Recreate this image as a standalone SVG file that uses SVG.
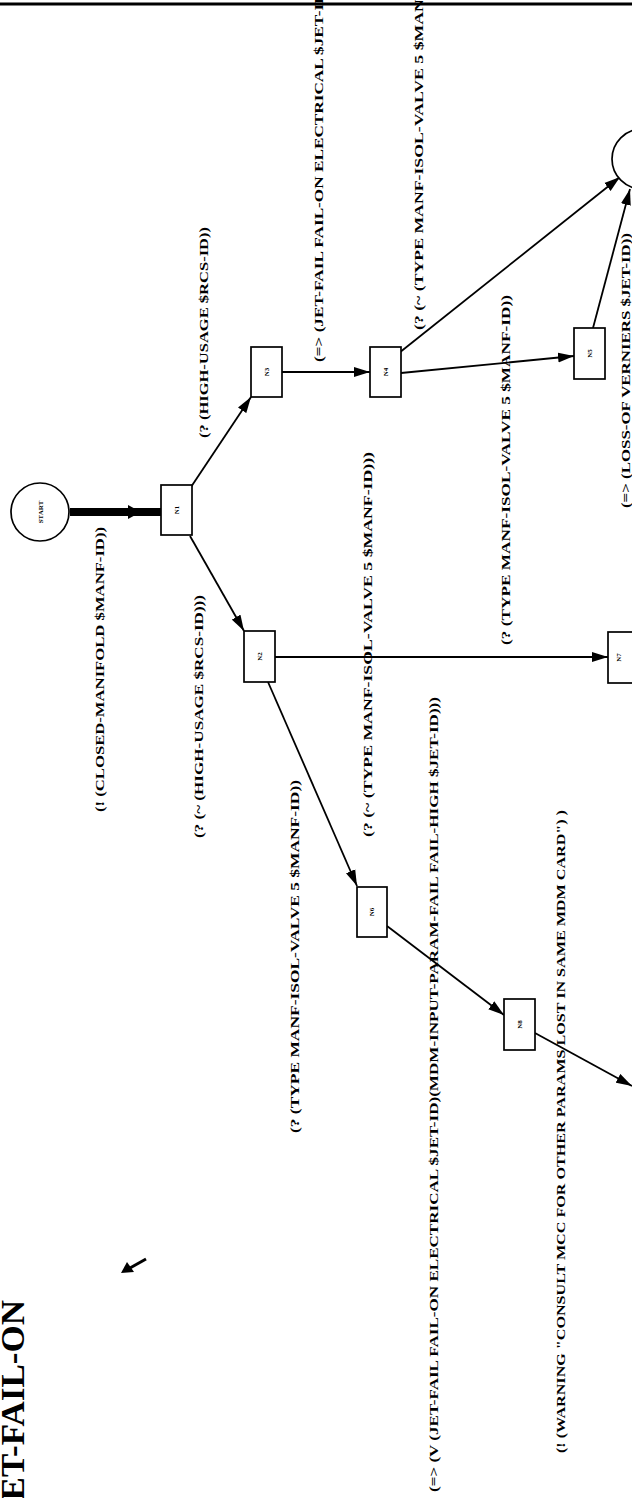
<svg xmlns="http://www.w3.org/2000/svg" width="632" height="1498" viewBox="0 0 632 1498">
  <style>
    .node { fill: #fff; stroke: #000; stroke-width: 1.7; }
    .edge { fill: none; stroke: #000; stroke-width: 1.8; }
    .nlab { font-family: "Liberation Serif", "Times New Roman", serif; font-weight: bold; font-size: 7px; fill: #000; text-anchor: middle; }
    .elab { font-family: "Liberation Serif", "Times New Roman", serif; font-weight: bold; font-size: 13px; fill: #000; }
    .title { font-family: "Liberation Serif", "Times New Roman", serif; font-weight: bold; font-size: 33px; fill: #000; text-anchor: end; }
  </style>
  <defs>
    <marker id="arrow" markerUnits="userSpaceOnUse" markerWidth="17" markerHeight="11" refX="16" refY="5.5" orient="auto">
      <path d="M0,0.5 L16,5.5 L0,10.5 Z" fill="#000"/>
    </marker>
  </defs>
  <rect width="632" height="1498" fill="#fff"/>
  <!-- page rule along the top edge -->
  <line x1="0" y1="4" x2="632" y2="4" stroke="#000" stroke-width="3"/>

  <!-- title -->
  <text class="title" transform="translate(24,1300) rotate(-90)" textLength="218" lengthAdjust="spacingAndGlyphs">JET-FAIL-ON</text>
  <!-- small pointer arrow -->
  <g id="pointer">
    <line x1="146" y1="1259" x2="130" y2="1268" stroke="#000" stroke-width="3"/>
    <polygon points="121,1273 127,1262 134,1272" fill="#000"/>
  </g>

  <!-- connectors -->
  <g id="connectors">
    <line x1="70" y1="512" x2="161" y2="512" stroke="#000" stroke-width="8"/>
    <polygon points="128,505 141,512 128,519" fill="#000"/>
    <line class="edge" x1="191" y1="487" x2="251" y2="397" marker-end="url(#arrow)"/>
    <line class="edge" x1="190" y1="536" x2="244" y2="631" marker-end="url(#arrow)"/>
    <line class="edge" x1="282" y1="372" x2="370" y2="372" marker-end="url(#arrow)"/>
    <line class="edge" x1="401" y1="373" x2="574" y2="356" marker-end="url(#arrow)"/>
    <line class="edge" x1="399" y1="353" x2="620" y2="177" marker-end="url(#arrow)"/>
    <line class="edge" x1="593" y1="328" x2="630" y2="189" marker-end="url(#arrow)"/>
    <line class="edge" x1="275" y1="657" x2="608" y2="657" marker-end="url(#arrow)"/>
    <line class="edge" x1="268" y1="682" x2="357" y2="886" marker-end="url(#arrow)"/>
    <line class="edge" x1="387" y1="926" x2="504" y2="1015" marker-end="url(#arrow)"/>
    <line class="edge" x1="535" y1="1033" x2="632" y2="1086" marker-end="url(#arrow)"/>
  </g>

  <!-- edge labels, set vertically -->
  <g id="edge-labels">
    <text class="elab" transform="translate(104,812) rotate(-90)" textLength="285" lengthAdjust="spacingAndGlyphs">(! (CLOSED-MANIFOLD $MANF-ID))</text>
    <text class="elab" transform="translate(203,838) rotate(-90)" textLength="243" lengthAdjust="spacingAndGlyphs">(? (~ (HIGH-USAGE $RCS-ID)))</text>
    <text class="elab" transform="translate(208,438) rotate(-90)" textLength="211" lengthAdjust="spacingAndGlyphs">(? (HIGH-USAGE $RCS-ID))</text>
    <text class="elab" transform="translate(323,362) rotate(-90)" textLength="382" lengthAdjust="spacingAndGlyphs">(=&gt; (JET-FAIL FAIL-ON ELECTRICAL $JET-ID))</text>
    <text class="elab" transform="translate(423,330) rotate(-90)" textLength="385" lengthAdjust="spacingAndGlyphs">(? (~ (TYPE MANF-ISOL-VALVE 5 $MANF-ID)))</text>
    <text class="elab" transform="translate(510,645) rotate(-90)" textLength="350" lengthAdjust="spacingAndGlyphs">(? (TYPE MANF-ISOL-VALVE 5 $MANF-ID))</text>
    <text class="elab" transform="translate(630,508) rotate(-90)" textLength="275" lengthAdjust="spacingAndGlyphs">(=&gt; (LOSS-OF VERNIERS $JET-ID))</text>
    <text class="elab" transform="translate(372,837) rotate(-90)" textLength="385" lengthAdjust="spacingAndGlyphs">(? (~ (TYPE MANF-ISOL-VALVE 5 $MANF-ID)))</text>
    <text class="elab" transform="translate(299,1133) rotate(-90)" textLength="353" lengthAdjust="spacingAndGlyphs">(? (TYPE MANF-ISOL-VALVE 5 $MANF-ID))</text>
    <text class="elab" transform="translate(438,1492) rotate(-90)" textLength="795" lengthAdjust="spacingAndGlyphs">(=&gt; (V (JET-FAIL FAIL-ON ELECTRICAL $JET-ID)(MDM-INPUT-PARAM-FAIL FAIL-HIGH $JET-ID)))</text>
    <text class="elab" transform="translate(565,1453) rotate(-90)" textLength="643" lengthAdjust="spacingAndGlyphs">(! (WARNING "CONSULT MCC FOR OTHER PARAMS LOST IN SAME MDM CARD") )</text>
  </g>

  <!-- nodes -->
  <g id="start">
    <circle class="node" cx="40" cy="512" r="29"/>
    <text class="nlab" transform="translate(42.5,512) rotate(-90)">START</text>
  </g>
  <g id="end">
    <circle class="node" cx="642" cy="159" r="30"/>
  </g>
  <g id="n1">
    <rect class="node" x="161" y="485" width="31" height="50"/>
    <text class="nlab" transform="translate(178.5,510) rotate(-90)">N1</text>
  </g>
  <g id="n2">
    <rect class="node" x="244" y="631" width="31" height="51"/>
    <text class="nlab" transform="translate(262,656.5) rotate(-90)">N2</text>
  </g>
  <g id="n3">
    <rect class="node" x="251" y="347" width="31" height="50"/>
    <text class="nlab" transform="translate(268.5,372) rotate(-90)">N3</text>
  </g>
  <g id="n4">
    <rect class="node" x="370" y="347" width="31" height="50"/>
    <text class="nlab" transform="translate(387.5,372) rotate(-90)">N4</text>
  </g>
  <g id="n5">
    <rect class="node" x="574" y="328" width="31" height="51"/>
    <text class="nlab" transform="translate(591.5,353.5) rotate(-90)">N5</text>
  </g>
  <g id="n6">
    <rect class="node" x="357" y="887" width="30" height="50"/>
    <text class="nlab" transform="translate(374,912) rotate(-90)">N6</text>
  </g>
  <g id="n7">
    <rect class="node" x="608" y="632" width="32" height="51"/>
    <text class="nlab" transform="translate(621,657.5) rotate(-90)">N7</text>
  </g>
  <g id="n8">
    <rect class="node" x="504" y="999" width="31" height="51"/>
    <text class="nlab" transform="translate(521.5,1024.5) rotate(-90)">N8</text>
  </g>
</svg>
